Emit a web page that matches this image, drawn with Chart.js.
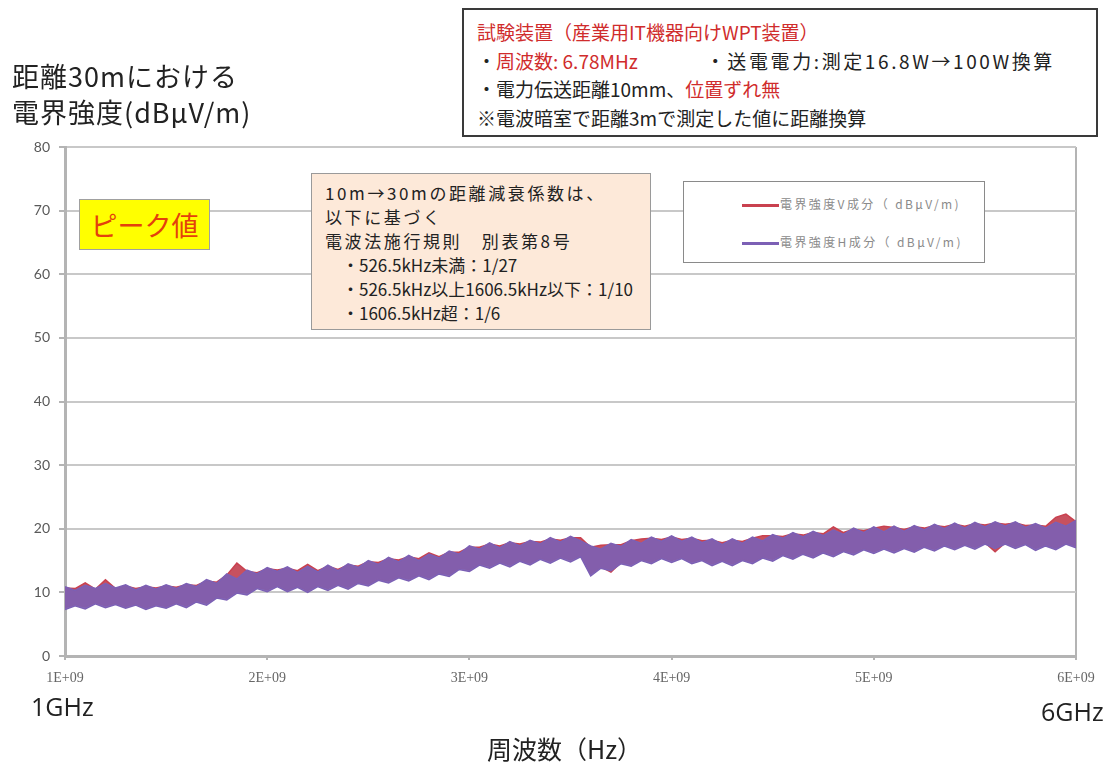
<!DOCTYPE html>
<html>
<head>
<meta charset="utf-8">
<script src="https://cdn.jsdelivr.net/npm/chart.js@4.4.0/dist/chart.umd.min.js"></script>
<style>
  body { margin: 0; background: #fff; }
  #wrap { position: relative; width: 1107px; height: 764px; overflow: hidden; font-family: "Noto Sans CJK JP", sans-serif; color: #222; }
  #myChart { position: absolute; left: 0; top: 0; }
  .txt { position: absolute; white-space: nowrap; }
  .red { color: #d02c2c; }
  #ytitle { left: 12px; top: 58px; font-size: 27px; line-height: 36px; letter-spacing: 1px; }
  #spec { left: 462px; top: 8px; width: 636px; height: 129px; border: 2px solid #3a3a3a; background: #fff; font-size: 19px; line-height: 28.5px; padding: 8px 0 0 13px; box-sizing: border-box; }
  #note { left: 311px; top: 173px; width: 340px; height: 157px; border: 1px solid #9a9a9a; background: #fde9d9; font-size: 17px; line-height: 24px; padding: 7px 0 0 13px; box-sizing: border-box; }
  #note .h { letter-spacing: 2.6px; }
  #note .b { padding-left: 17px; }
  #peak { left: 79px; top: 199px; width: 131px; height: 51px; border: 1px solid #a0a0a0; background: #ffff00; color: #e4400c; font-size: 27px; line-height: 49px; text-align: center; box-sizing: border-box; }
  #legend { left: 683px; top: 181px; width: 302px; height: 82px; border: 1px solid #8a8a8a; background: #fff; box-sizing: border-box; font-size: 12px; color: #8a8a8a; letter-spacing: 2.4px; }
  #legend .row { position: absolute; left: 58px; height: 16px; line-height: 16px; }
  #legend .sw { display: inline-block; width: 37px; height: 3px; vertical-align: middle; margin-right: 1px; }
  #x1 { left: 31px; top: 689px; font-size: 25px; font-family: "Open Sans", sans-serif; }
  #x6 { left: 1041px; top: 694px; font-size: 25px; font-family: "Open Sans", sans-serif; }
  #xtitle { left: 487px; top: 730px; font-size: 25px; }
</style>
</head>
<body>
<div id="wrap">
  <canvas id="myChart" width="1107" height="764"></canvas>

  <div class="txt" id="ytitle">距離30mにおける<br>電界強度(dBμV/m)</div>

  <div class="txt" id="spec">
    <div class="red">試験装置（産業用IT機器向けWPT装置）</div>
    <div>・<span class="red">周波数: 6.78MHz</span><span style="display:inline-block;width:68px"></span><span style="letter-spacing:2.6px">・送電電力:測定16.8W→100W換算</span></div>
    <div>・電力伝送距離10mm、<span class="red">位置ずれ無</span></div>
    <div>※電波暗室で距離3mで測定した値に距離換算</div>
  </div>

  <div class="txt" id="note">
    <div class="h">10m→30mの距離減衰係数は、</div>
    <div class="h">以下に基づく</div>
    <div class="h">電波法施行規則　別表第8号</div>
    <div class="b">・526.5kHz未満：1/27</div>
    <div class="b">・526.5kHz以上1606.5kHz以下：1/10</div>
    <div class="b">・1606.5kHz超：1/6</div>
  </div>

  <div class="txt" id="peak">ピーク値</div>

  <div class="txt" id="legend">
    <div class="row" style="top:14px"><span class="sw" id="swV"></span><span id="lbV"></span></div>
    <div class="row" style="top:52px"><span class="sw" id="swH"></span><span id="lbH"></span></div>
  </div>

  <div class="txt" id="x1">1GHz</div>
  <div class="txt" id="x6">6GHz</div>
  <div class="txt" id="xtitle">周波数（Hz）</div>
</div>

<script>
// sweep: 1 GHz to 6 GHz, the peak trace read as an upper and lower edge every 50 MHz
var freqStart = 1e9;
var freqStep = 50e6;

var seriesNames = ['電界強度V成分（ dBμV/m)', '電界強度H成分（ dBμV/m)'];
var seriesColors = ['#c9414f', '#7c60b5'];
var xTicks = ['1E+09', '2E+09', '3E+09', '4E+09', '5E+09', '6E+09'];

// V component (dBμV/m): top and bottom of the noisy trace
var vHigh = [
  10.7, 10.6, 11.5, 10.5, 12.0, 10.6, 11.0, 10.6, 10.9, 10.7,
  11.0, 10.8, 11.2, 11.1, 11.8, 11.6, 12.7, 14.6, 13.3, 13.1,
  13.7, 13.5, 13.8, 13.4, 14.4, 13.4, 14.1, 13.6, 14.3, 14.1,
  14.8, 14.7, 15.3, 15.1, 15.6, 15.3, 16.2, 15.6, 16.3, 16.3,
  17.1, 17.1, 17.6, 17.3, 17.8, 17.6, 18.0, 17.9, 18.4, 18.2,
  18.6, 18.6,
  17.1, 17.4, 17.5, 17.5, 18.1, 18.4, 18.5, 18.3,
  18.7, 18.3, 18.5, 18.1, 18.2, 17.8, 18.2, 18.0, 18.5, 18.9,
  18.9, 18.8, 19.2, 19.0, 19.4, 19.2, 20.3, 19.4, 19.9, 19.7,
  20.1, 20.4, 20.2, 19.9, 20.3, 20.1, 20.5, 20.3, 20.7, 20.4,
  20.8, 20.6, 20.9, 20.7, 20.9, 20.5, 20.6, 20.4, 21.8, 22.3, 21.1
];
var vLow = [
  7.6, 8.1, 7.7, 8.4, 7.9, 8.3, 7.8, 8.2, 7.6, 8.1,
  7.8, 8.4, 7.9, 8.7, 8.3, 9.3, 9.1, 10.1, 9.9, 10.8,
  10.4, 11.1, 10.4, 11.0, 10.3, 11.1, 10.6, 11.3, 10.8, 11.6,
  11.3, 12.1, 11.8, 12.5, 12.1, 12.8, 12.3, 13.1, 12.8, 13.8,
  13.6, 14.5, 14.1, 14.8, 14.3, 15.1, 14.6, 15.4, 14.9, 15.6,
  15.1, 15.8,
  12.9, 14.0, 13.2, 14.7, 14.4, 15.2, 14.8, 15.5,
  15.0, 15.5, 14.8, 15.2, 14.5, 15.1, 14.5, 15.2, 14.8, 15.6,
  15.2, 16.0, 15.5, 16.2, 15.7, 16.4, 15.9, 16.6, 16.2, 16.9,
  16.4, 17.0, 16.5, 17.1, 16.6, 17.3, 16.8, 17.5, 17.0, 17.6,
  17.1, 17.8, 16.4, 17.8, 17.2, 17.7, 16.9, 17.5, 17.0, 17.8, 17.3
];

// H component (dBμV/m): top and bottom of the noisy trace
var hHigh = [
  10.9, 10.3, 11.1, 10.6, 11.4, 10.7, 11.2, 10.4, 11.1, 10.5,
  11.2, 10.6, 11.4, 10.9, 12.0, 11.4, 12.9, 12.1, 13.5, 12.9,
  13.9, 13.3, 14.0, 13.1, 14.1, 13.2, 14.3, 13.4, 14.5, 13.9,
  15.0, 14.4, 15.5, 14.8, 15.8, 15.0, 16.0, 15.4, 16.5, 16.0,
  17.3, 16.8, 17.8, 17.0, 18.0, 17.3, 18.2, 17.6, 18.6, 17.9,
  18.8, 18.1,
  17.3, 16.8, 17.7, 17.2, 18.3, 17.7, 18.7, 18.0,
  18.9, 18.0, 18.7, 17.8, 18.4, 17.5, 18.4, 17.7, 18.7, 18.1,
  19.1, 18.5, 19.4, 18.7, 19.6, 18.9, 19.8, 19.1, 20.1, 19.4,
  20.3, 19.5, 20.4, 19.6, 20.5, 19.8, 20.7, 20.0, 20.9, 20.1,
  21.0, 20.3, 21.1, 20.4, 21.1, 20.2, 20.8, 20.1, 21.0, 20.4, 21.3
];
var hLow = [
  7.3, 7.9, 7.4, 8.2, 7.6, 8.1, 7.5, 8.0, 7.3, 7.9,
  7.5, 8.2, 7.6, 8.5, 8.0, 9.1, 8.8, 9.9, 9.6, 10.6,
  10.1, 10.9, 10.1, 10.8, 10.0, 10.9, 10.3, 11.1, 10.5, 11.4,
  11.0, 11.9, 11.5, 12.3, 11.8, 12.6, 12.0, 12.9, 12.5, 13.6,
  13.3, 14.3, 13.8, 14.6, 14.0, 14.9, 14.3, 15.2, 14.6, 15.4,
  14.8, 15.6,
  12.6, 13.8, 13.4, 14.5, 14.1, 15.0, 14.5, 15.3,
  14.7, 15.3, 14.5, 15.0, 14.2, 14.9, 14.2, 15.0, 14.5, 15.4,
  14.9, 15.8, 15.2, 16.0, 15.4, 16.2, 15.6, 16.4, 15.9, 16.7,
  16.1, 16.8, 16.2, 16.9, 16.3, 17.1, 16.5, 17.3, 16.7, 17.4,
  16.8, 17.6, 16.9, 17.6, 16.9, 17.5, 16.6, 17.3, 16.7, 17.6, 17.0
];

function toPoints(arr) {
  return arr.map(function (v, i) { return { x: freqStart + i * freqStep, y: v }; });
}

// html legend (sits inside the plot like the original)
document.getElementById('swV').style.background = seriesColors[0];
document.getElementById('swH').style.background = seriesColors[1];
document.getElementById('lbV').textContent = seriesNames[0];
document.getElementById('lbH').textContent = seriesNames[1];

var axisGray = '#b4b4b4';

function band(arr, color, fill, order) {
  return {
    data: toPoints(arr),
    borderColor: color,
    backgroundColor: fill,
    borderWidth: 1.5,
    pointRadius: 0,
    fill: fill ? '+1' : false,
    order: order
  };
}

var ctx = document.getElementById('myChart');
var lineChart = new Chart(ctx, {
  type: 'line',
  data: {
    datasets: [
      band(vHigh, seriesColors[0], 'rgba(196,72,86,0.95)', 1),
      band(vLow, seriesColors[0], null, 1),
      band(hHigh, seriesColors[1], 'rgba(124,96,181,0.9)', 0),
      band(hLow, seriesColors[1], null, 0)
    ]
  },
  options: {
    responsive: false,
    animation: false,
    events: [],
    layout: { padding: { left: 0, top: 147, right: 31, bottom: 78 } },
    plugins: { legend: { display: false }, tooltip: { enabled: false } },
    scales: {
      x: {
        type: 'linear',
        min: 1e9,
        max: 6e9,
        afterBuildTicks: function (scale) {
          scale.ticks = xTicks.map(function (t, i) { return { value: freqStart + i * 1e9 }; });
        },
        afterFit: function (scale) {
          scale.height = 30;
          scale.paddingLeft = 0; scale.paddingRight = 0;
        },
        ticks: {
          maxRotation: 0,
          padding: 10,
          color: '#666',
          font: { family: 'Liberation Serif', size: 14 },
          callback: function (value, i) { return xTicks[i]; }
        },
        grid: {
          drawOnChartArea: true,
          color: function (c) { return c.tick && c.tick.value === 6e9 ? axisGray : 'rgba(0,0,0,0)'; },
          tickColor: axisGray,
          tickLength: 4,
          lineWidth: 2
        },
        border: { color: axisGray, width: 3 }
      },
      y: {
        min: 0,
        max: 80,
        ticks: {
          stepSize: 10,
          padding: 9,
          color: '#595959',
          font: { family: 'Lato', size: 14 }
        },
        afterFit: function (scale) {
          scale.width = 65;
          scale.paddingTop = 0; scale.paddingBottom = 0;
        },
        grid: { color: '#c8c8c8', lineWidth: 2, tickColor: axisGray, tickLength: 6 },
        border: { color: axisGray, width: 3 }
      }
    }
  }
});
</script>
</body>
</html>
